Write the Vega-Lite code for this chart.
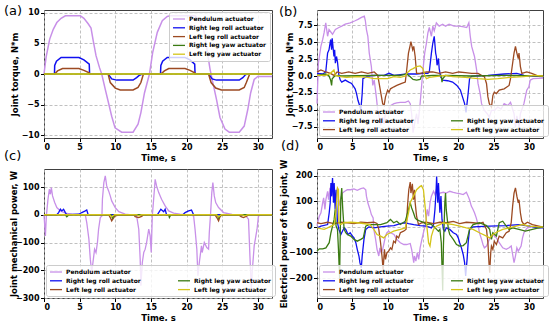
{
"$schema":"https://vega.github.io/schema/vega-lite/v6.json",
"padding":{"left":3,"top":4,"right":2,"bottom":2},
"background":"white",
"datasets":{
"a":[
{"s":"P","t":0,"v":0},{"s":"P","t":0.3,"v":2.8},{"s":"P","t":0.8,"v":5.7},{"s":"P","t":1.3,"v":7.3},{"s":"P","t":1.8,"v":8.4},{"s":"P","t":2.4,"v":9.1},{"s":"P","t":3.0,"v":9.5},{"s":"P","t":5.1,"v":9.5},{"s":"P","t":5.6,"v":9.1},{"s":"P","t":6.2,"v":8.2},{"s":"P","t":6.6,"v":7.5},{"s":"P","t":6.9,"v":5.5},{"s":"P","t":7.3,"v":3.0},{"s":"P","t":7.8,"v":1.0},{"s":"P","t":8.1,"v":0},{"s":"P","t":8.6,"v":-2.5},{"s":"P","t":9.05,"v":-4.7},{"s":"P","t":9.5,"v":-6.9},{"s":"P","t":9.97,"v":-8.8},{"s":"P","t":10.9,"v":-9.5},{"s":"P","t":12.5,"v":-9.5},{"s":"P","t":13.2,"v":-8.2},{"s":"P","t":13.6,"v":-6.3},{"s":"P","t":14.1,"v":-3.1},{"s":"P","t":14.8,"v":0},{"s":"P","t":15.25,"v":3.5},{"s":"P","t":15.9,"v":6.8},{"s":"P","t":16.6,"v":8.7},{"s":"P","t":17.3,"v":9.4},{"s":"P","t":17.7,"v":9.5},{"s":"P","t":21.2,"v":9.5},{"s":"P","t":21.9,"v":8.7},{"s":"P","t":22.4,"v":7.3},{"s":"P","t":22.8,"v":4.6},{"s":"P","t":23.3,"v":0.8},{"s":"P","t":23.7,"v":-1.4},{"s":"P","t":24.2,"v":-4.1},{"s":"P","t":24.7,"v":-7.1},{"s":"P","t":25.4,"v":-9.0},{"s":"P","t":26.0,"v":-9.5},{"s":"P","t":27.4,"v":-9.5},{"s":"P","t":28.1,"v":-8.5},{"s":"P","t":28.6,"v":-5.8},{"s":"P","t":29.0,"v":-3.1},{"s":"P","t":29.5,"v":-0.9},{"s":"P","t":30.0,"v":-0.4},{"s":"P","t":32,"v":-0.4},
{"s":"RR","t":0,"v":0},{"s":"RR","t":1.47,"v":0},{"s":"RR","t":1.5,"v":1.4},{"s":"RR","t":1.75,"v":2.1},{"s":"RR","t":2.4,"v":2.7},{"s":"RR","t":4.9,"v":2.7},{"s":"RR","t":5.6,"v":2.3},{"s":"RR","t":6.35,"v":1.6},{"s":"RR","t":6.4,"v":0},{"s":"RR","t":9.0,"v":0},{"s":"RR","t":9.5,"v":-0.8},{"s":"RR","t":10.2,"v":-1.0},{"s":"RR","t":12.5,"v":-1.0},{"s":"RR","t":13.0,"v":-0.6},{"s":"RR","t":13.4,"v":-0.2},{"s":"RR","t":13.8,"v":0},{"s":"RR","t":16.35,"v":0},{"s":"RR","t":16.4,"v":1.4},{"s":"RR","t":16.65,"v":2.1},{"s":"RR","t":17.3,"v":2.7},{"s":"RR","t":19.8,"v":2.7},{"s":"RR","t":20.5,"v":2.3},{"s":"RR","t":21.15,"v":1.6},{"s":"RR","t":21.2,"v":0},{"s":"RR","t":23.1,"v":0},{"s":"RR","t":23.6,"v":-0.8},{"s":"RR","t":24.2,"v":-1.0},{"s":"RR","t":27.4,"v":-1.0},{"s":"RR","t":27.9,"v":-0.6},{"s":"RR","t":28.3,"v":-0.1},{"s":"RR","t":28.7,"v":0},{"s":"RR","t":32,"v":0},
{"s":"LR","t":0,"v":0},{"s":"LR","t":1.5,"v":0},{"s":"LR","t":1.9,"v":0.5},{"s":"LR","t":2.6,"v":0.9},{"s":"LR","t":4.9,"v":0.9},{"s":"LR","t":5.6,"v":0.6},{"s":"LR","t":6.35,"v":0.2},{"s":"LR","t":6.4,"v":0},{"s":"LR","t":9.0,"v":0},{"s":"LR","t":9.3,"v":-1.4},{"s":"LR","t":10.0,"v":-2.3},{"s":"LR","t":10.7,"v":-2.6},{"s":"LR","t":12.5,"v":-2.6},{"s":"LR","t":13.2,"v":-2.2},{"s":"LR","t":13.6,"v":-1.4},{"s":"LR","t":13.9,"v":-0.2},{"s":"LR","t":14.0,"v":0},{"s":"LR","t":16.4,"v":0},{"s":"LR","t":16.9,"v":0.5},{"s":"LR","t":17.5,"v":0.9},{"s":"LR","t":19.8,"v":0.9},{"s":"LR","t":20.5,"v":0.6},{"s":"LR","t":21.15,"v":0.2},{"s":"LR","t":21.2,"v":0},{"s":"LR","t":23.1,"v":0},{"s":"LR","t":23.45,"v":-1.4},{"s":"LR","t":24.1,"v":-2.3},{"s":"LR","t":24.9,"v":-2.6},{"s":"LR","t":27.4,"v":-2.6},{"s":"LR","t":28.1,"v":-2.2},{"s":"LR","t":28.4,"v":-1.4},{"s":"LR","t":28.8,"v":-0.2},{"s":"LR","t":28.9,"v":0},{"s":"LR","t":32,"v":0},
{"s":"RY","t":0,"v":0},{"s":"RY","t":32,"v":0},
{"s":"LY","t":0,"v":0},{"s":"LY","t":32,"v":0}
],
"b":[
{"s":"P","t":0,"v":-4.1},{"s":"P","t":0.2,"v":1.9},{"s":"P","t":0.55,"v":4.4},{"s":"P","t":0.8,"v":5.4},{"s":"P","t":1.0,"v":6.4},{"s":"P","t":1.24,"v":7.9},{"s":"P","t":1.5,"v":5.9},{"s":"P","t":1.7,"v":6.9},{"s":"P","t":2.2,"v":6.2},{"s":"P","t":2.6,"v":6.9},{"s":"P","t":3.1,"v":7.2},{"s":"P","t":3.5,"v":7.4},{"s":"P","t":4.0,"v":7.7},{"s":"P","t":4.7,"v":7.9},{"s":"P","t":5.4,"v":8.2},{"s":"P","t":5.8,"v":8.4},{"s":"P","t":6.3,"v":8.7},{"s":"P","t":6.7,"v":8.9},{"s":"P","t":6.85,"v":8.2},{"s":"P","t":7.0,"v":6.9},{"s":"P","t":7.2,"v":5.9},{"s":"P","t":7.4,"v":3.4},{"s":"P","t":7.7,"v":1.4},{"s":"P","t":7.9,"v":-1.4},{"s":"P","t":8.1,"v":-0.6},{"s":"P","t":8.4,"v":-3.1},{"s":"P","t":8.6,"v":-5.1},{"s":"P","t":8.8,"v":-6.1},{"s":"P","t":9.05,"v":-7.1},{"s":"P","t":9.3,"v":-6.1},{"s":"P","t":9.5,"v":-7.1},{"s":"P","t":9.7,"v":-5.4},{"s":"P","t":10.2,"v":-5.1},{"s":"P","t":10.4,"v":-4.4},{"s":"P","t":10.9,"v":-4.1},{"s":"P","t":11.3,"v":-4.0},{"s":"P","t":11.8,"v":-3.9},{"s":"P","t":12.5,"v":-3.9},{"s":"P","t":12.95,"v":-3.7},{"s":"P","t":13.2,"v":-4.1},{"s":"P","t":13.4,"v":-5.6},{"s":"P","t":13.6,"v":-8.4},{"s":"P","t":13.9,"v":-6.6},{"s":"P","t":14.1,"v":-5.6},{"s":"P","t":14.3,"v":-7.1},{"s":"P","t":14.6,"v":-4.1},{"s":"P","t":14.8,"v":-1.6},{"s":"P","t":15.0,"v":0.9},{"s":"P","t":15.25,"v":3.4},{"s":"P","t":15.5,"v":4.9},{"s":"P","t":15.7,"v":6.4},{"s":"P","t":15.9,"v":7.2},{"s":"P","t":16.2,"v":5.9},{"s":"P","t":16.4,"v":7.4},{"s":"P","t":16.6,"v":6.7},{"s":"P","t":16.9,"v":7.9},{"s":"P","t":17.3,"v":7.4},{"s":"P","t":17.8,"v":7.7},{"s":"P","t":18.2,"v":7.4},{"s":"P","t":18.7,"v":7.7},{"s":"P","t":19.4,"v":7.4},{"s":"P","t":20.1,"v":7.4},{"s":"P","t":20.8,"v":7.3},{"s":"P","t":21.2,"v":7.2},{"s":"P","t":21.5,"v":7.9},{"s":"P","t":21.7,"v":5.9},{"s":"P","t":21.9,"v":4.4},{"s":"P","t":22.3,"v":2.9},{"s":"P","t":22.6,"v":0.9},{"s":"P","t":22.8,"v":-1.1},{"s":"P","t":23.1,"v":-2.6},{"s":"P","t":23.3,"v":-4.1},{"s":"P","t":23.7,"v":-5.1},{"s":"P","t":24.1,"v":-5.6},{"s":"P","t":24.4,"v":-6.1},{"s":"P","t":24.7,"v":-5.1},{"s":"P","t":25.1,"v":-5.1},{"s":"P","t":25.6,"v":-4.6},{"s":"P","t":26.05,"v":-4.9},{"s":"P","t":26.5,"v":-4.1},{"s":"P","t":27.0,"v":-4.4},{"s":"P","t":27.4,"v":-3.9},{"s":"P","t":27.9,"v":-5.6},{"s":"P","t":28.1,"v":-7.6},{"s":"P","t":28.3,"v":-5.9},{"s":"P","t":28.6,"v":-7.6},{"s":"P","t":28.8,"v":-5.6},{"s":"P","t":29.3,"v":-4.1},{"s":"P","t":29.7,"v":-2.1},{"s":"P","t":30.0,"v":-1.6},{"s":"P","t":30.2,"v":-0.6},{"s":"P","t":30.6,"v":-0.4},{"s":"P","t":32,"v":-0.3},
{"s":"RR","t":0,"v":0.4},{"s":"RR","t":0.8,"v":0.3},{"s":"RR","t":1.24,"v":0.6},{"s":"RR","t":1.5,"v":3.4},{"s":"RR","t":1.7,"v":3.9},{"s":"RR","t":1.93,"v":5.4},{"s":"RR","t":2.07,"v":3.9},{"s":"RR","t":2.15,"v":5.6},{"s":"RR","t":2.4,"v":2.9},{"s":"RR","t":2.5,"v":3.9},{"s":"RR","t":2.6,"v":1.9},{"s":"RR","t":2.76,"v":2.9},{"s":"RR","t":2.9,"v":2.1},{"s":"RR","t":3.1,"v":0.1},{"s":"RR","t":3.3,"v":-0.6},{"s":"RR","t":3.5,"v":-0.9},{"s":"RR","t":4.0,"v":-0.6},{"s":"RR","t":4.5,"v":-0.9},{"s":"RR","t":4.9,"v":-1.1},{"s":"RR","t":5.4,"v":-1.9},{"s":"RR","t":5.6,"v":-2.6},{"s":"RR","t":5.8,"v":-3.6},{"s":"RR","t":6.1,"v":-4.6},{"s":"RR","t":6.2,"v":-5.1},{"s":"RR","t":6.4,"v":-2.6},{"s":"RR","t":6.5,"v":-0.4},{"s":"RR","t":7.2,"v":0},{"s":"RR","t":8.1,"v":0.1},{"s":"RR","t":9.5,"v":0.1},{"s":"RR","t":10.2,"v":0.4},{"s":"RR","t":10.9,"v":0.1},{"s":"RR","t":12.7,"v":0.3},{"s":"RR","t":14.1,"v":0.3},{"s":"RR","t":15.0,"v":0.4},{"s":"RR","t":15.7,"v":0.4},{"s":"RR","t":15.9,"v":0.6},{"s":"RR","t":16.2,"v":3.4},{"s":"RR","t":16.4,"v":4.9},{"s":"RR","t":16.6,"v":5.9},{"s":"RR","t":16.8,"v":3.4},{"s":"RR","t":16.9,"v":2.9},{"s":"RR","t":17.0,"v":1.6},{"s":"RR","t":17.2,"v":2.6},{"s":"RR","t":17.3,"v":1.1},{"s":"RR","t":17.5,"v":-0.1},{"s":"RR","t":17.8,"v":-0.6},{"s":"RR","t":18.5,"v":-0.7},{"s":"RR","t":19.2,"v":-0.9},{"s":"RR","t":19.8,"v":-1.4},{"s":"RR","t":20.3,"v":-2.1},{"s":"RR","t":20.6,"v":-3.1},{"s":"RR","t":20.9,"v":-4.1},{"s":"RR","t":21.1,"v":-5.4},{"s":"RR","t":21.4,"v":-2.6},{"s":"RR","t":21.6,"v":-0.4},{"s":"RR","t":21.9,"v":0},{"s":"RR","t":24.2,"v":0.1},{"s":"RR","t":26.5,"v":0.3},{"s":"RR","t":28.3,"v":0.4},{"s":"RR","t":29.3,"v":0.1},{"s":"RR","t":30.6,"v":0},{"s":"RR","t":32,"v":-0.1},
{"s":"LR","t":0,"v":0.6},{"s":"LR","t":0.55,"v":0.9},{"s":"LR","t":1.24,"v":0.6},{"s":"LR","t":1.9,"v":0.4},{"s":"LR","t":2.4,"v":0.1},{"s":"LR","t":2.85,"v":0.6},{"s":"LR","t":3.5,"v":0.4},{"s":"LR","t":4.5,"v":0.6},{"s":"LR","t":5.4,"v":0.4},{"s":"LR","t":6.3,"v":0.6},{"s":"LR","t":7.2,"v":0.4},{"s":"LR","t":8.1,"v":0.6},{"s":"LR","t":8.6,"v":0.1},{"s":"LR","t":8.8,"v":-1.1},{"s":"LR","t":9.05,"v":-2.6},{"s":"LR","t":9.3,"v":-4.1},{"s":"LR","t":9.5,"v":-4.4},{"s":"LR","t":9.7,"v":-3.1},{"s":"LR","t":10.0,"v":-2.1},{"s":"LR","t":10.2,"v":-2.4},{"s":"LR","t":10.4,"v":-1.9},{"s":"LR","t":10.9,"v":-1.6},{"s":"LR","t":11.3,"v":-1.4},{"s":"LR","t":12.0,"v":-1.1},{"s":"LR","t":12.5,"v":-0.9},{"s":"LR","t":12.7,"v":0.9},{"s":"LR","t":12.95,"v":3.4},{"s":"LR","t":13.2,"v":4.6},{"s":"LR","t":13.3,"v":5.1},{"s":"LR","t":13.55,"v":3.9},{"s":"LR","t":13.7,"v":4.4},{"s":"LR","t":13.9,"v":2.9},{"s":"LR","t":14.1,"v":0.4},{"s":"LR","t":14.6,"v":0.4},{"s":"LR","t":15.5,"v":0.6},{"s":"LR","t":16.4,"v":0.6},{"s":"LR","t":17.3,"v":0.4},{"s":"LR","t":18.2,"v":0.6},{"s":"LR","t":19.2,"v":0.4},{"s":"LR","t":20.1,"v":0.6},{"s":"LR","t":21.0,"v":0.5},{"s":"LR","t":21.9,"v":0.4},{"s":"LR","t":22.8,"v":0.4},{"s":"LR","t":23.3,"v":0.1},{"s":"LR","t":23.7,"v":-0.1},{"s":"LR","t":24.0,"v":-1.1},{"s":"LR","t":24.2,"v":-3.1},{"s":"LR","t":24.4,"v":-4.1},{"s":"LR","t":24.7,"v":-4.6},{"s":"LR","t":24.9,"v":-2.9},{"s":"LR","t":25.1,"v":-2.4},{"s":"LR","t":25.4,"v":-2.6},{"s":"LR","t":25.8,"v":-2.1},{"s":"LR","t":26.5,"v":-1.9},{"s":"LR","t":27.2,"v":-1.4},{"s":"LR","t":27.4,"v":-0.4},{"s":"LR","t":27.7,"v":1.9},{"s":"LR","t":27.9,"v":3.4},{"s":"LR","t":28.1,"v":4.4},{"s":"LR","t":28.3,"v":3.4},{"s":"LR","t":28.5,"v":2.6},{"s":"LR","t":28.6,"v":3.4},{"s":"LR","t":28.8,"v":1.4},{"s":"LR","t":29.0,"v":0.4},{"s":"LR","t":29.7,"v":0.6},{"s":"LR","t":30.4,"v":0.4},{"s":"LR","t":31.1,"v":0.1},{"s":"LR","t":32,"v":0},
{"s":"RY","t":0,"v":0.1},{"s":"RY","t":1.24,"v":0.3},{"s":"RY","t":1.7,"v":0},{"s":"RY","t":1.93,"v":-0.6},{"s":"RY","t":2.07,"v":-1.4},{"s":"RY","t":2.15,"v":-0.4},{"s":"RY","t":2.6,"v":0.1},{"s":"RY","t":3.5,"v":0},{"s":"RY","t":8.1,"v":0.1},{"s":"RY","t":11.8,"v":0.1},{"s":"RY","t":12.7,"v":0.3},{"s":"RY","t":13.2,"v":-0.1},{"s":"RY","t":13.6,"v":-0.5},{"s":"RY","t":14.1,"v":-0.6},{"s":"RY","t":14.6,"v":-0.5},{"s":"RY","t":14.8,"v":0},{"s":"RY","t":16.4,"v":0.1},{"s":"RY","t":17.6,"v":0.1},{"s":"RY","t":17.7,"v":-0.9},{"s":"RY","t":17.8,"v":-0.4},{"s":"RY","t":18.2,"v":0.1},{"s":"RY","t":21.9,"v":0},{"s":"RY","t":26.5,"v":0.1},{"s":"RY","t":32,"v":0},
{"s":"LY","t":0,"v":0.1},{"s":"LY","t":1.24,"v":0.1},{"s":"LY","t":1.9,"v":0.4},{"s":"LY","t":2.4,"v":0.9},{"s":"LY","t":2.6,"v":0.1},{"s":"LY","t":3.3,"v":-0.1},{"s":"LY","t":4.2,"v":-0.2},{"s":"LY","t":5.8,"v":-0.1},{"s":"LY","t":7.2,"v":-0.2},{"s":"LY","t":8.1,"v":-0.4},{"s":"LY","t":9.05,"v":-0.4},{"s":"LY","t":10.0,"v":-0.4},{"s":"LY","t":10.9,"v":-0.1},{"s":"LY","t":11.8,"v":-0.2},{"s":"LY","t":12.5,"v":0},{"s":"LY","t":12.7,"v":0.4},{"s":"LY","t":13.2,"v":0.9},{"s":"LY","t":13.6,"v":1.1},{"s":"LY","t":14.1,"v":1.4},{"s":"LY","t":14.6,"v":1.5},{"s":"LY","t":15.0,"v":1.1},{"s":"LY","t":15.25,"v":0.1},{"s":"LY","t":15.5,"v":-0.4},{"s":"LY","t":15.9,"v":-0.2},{"s":"LY","t":17.3,"v":0},{"s":"LY","t":18.2,"v":0.1},{"s":"LY","t":19.2,"v":-0.1},{"s":"LY","t":21.0,"v":-0.2},{"s":"LY","t":22.8,"v":-0.4},{"s":"LY","t":24.2,"v":-0.5},{"s":"LY","t":25.6,"v":-0.4},{"s":"LY","t":27.4,"v":-0.2},{"s":"LY","t":29.3,"v":-0.1},{"s":"LY","t":30.6,"v":0.1},{"s":"LY","t":32,"v":0}
],
"c":[
{"s":"P","t":0,"v":0},{"s":"P","t":0.2,"v":-76},{"s":"P","t":0.33,"v":-4},{"s":"P","t":0.56,"v":56},{"s":"P","t":0.75,"v":92},{"s":"P","t":0.9,"v":74},{"s":"P","t":1.03,"v":98},{"s":"P","t":1.2,"v":68},{"s":"P","t":1.5,"v":44},{"s":"P","t":1.8,"v":26},{"s":"P","t":2.3,"v":14},{"s":"P","t":3.0,"v":6},{"s":"P","t":3.9,"v":2},{"s":"P","t":5.1,"v":1},{"s":"P","t":5.8,"v":0},{"s":"P","t":6.0,"v":-28},{"s":"P","t":6.3,"v":-88},{"s":"P","t":6.5,"v":-160},{"s":"P","t":6.7,"v":-208},{"s":"P","t":6.87,"v":-172},{"s":"P","t":7.1,"v":-124},{"s":"P","t":7.3,"v":-136},{"s":"P","t":7.5,"v":-100},{"s":"P","t":7.66,"v":-52},{"s":"P","t":7.9,"v":-10},{"s":"P","t":8.13,"v":-4},{"s":"P","t":8.2,"v":56},{"s":"P","t":8.4,"v":116},{"s":"P","t":8.6,"v":140},{"s":"P","t":8.8,"v":104},{"s":"P","t":9.07,"v":86},{"s":"P","t":9.3,"v":68},{"s":"P","t":9.5,"v":50},{"s":"P","t":10.0,"v":26},{"s":"P","t":10.5,"v":11},{"s":"P","t":11.4,"v":2},{"s":"P","t":12.3,"v":0},{"s":"P","t":13.0,"v":-4},{"s":"P","t":13.3,"v":-52},{"s":"P","t":13.5,"v":-160},{"s":"P","t":13.6,"v":-256},{"s":"P","t":13.8,"v":-172},{"s":"P","t":14.0,"v":-136},{"s":"P","t":14.2,"v":-124},{"s":"P","t":14.4,"v":-100},{"s":"P","t":14.7,"v":-52},{"s":"P","t":14.9,"v":-76},{"s":"P","t":15.05,"v":-136},{"s":"P","t":15.2,"v":-4},{"s":"P","t":15.5,"v":92},{"s":"P","t":15.6,"v":128},{"s":"P","t":15.8,"v":104},{"s":"P","t":16.1,"v":80},{"s":"P","t":16.5,"v":56},{"s":"P","t":17.0,"v":32},{"s":"P","t":17.5,"v":14},{"s":"P","t":18.2,"v":6},{"s":"P","t":19.1,"v":2},{"s":"P","t":20.5,"v":0},{"s":"P","t":21.0,"v":-4},{"s":"P","t":21.2,"v":-52},{"s":"P","t":21.45,"v":-124},{"s":"P","t":21.6,"v":-220},{"s":"P","t":21.8,"v":-172},{"s":"P","t":22.1,"v":-112},{"s":"P","t":22.2,"v":-136},{"s":"P","t":22.5,"v":-100},{"s":"P","t":22.85,"v":-118},{"s":"P","t":23.1,"v":-124},{"s":"P","t":23.2,"v":-64},{"s":"P","t":23.36,"v":-4},{"s":"P","t":23.55,"v":80},{"s":"P","t":23.7,"v":116},{"s":"P","t":23.9,"v":68},{"s":"P","t":24.1,"v":44},{"s":"P","t":24.5,"v":26},{"s":"P","t":25.2,"v":8},{"s":"P","t":26.4,"v":1},{"s":"P","t":28.2,"v":0},{"s":"P","t":28.7,"v":-16},{"s":"P","t":28.9,"v":-148},{"s":"P","t":29.1,"v":-268},{"s":"P","t":29.25,"v":-196},{"s":"P","t":29.5,"v":-112},{"s":"P","t":29.9,"v":-52},{"s":"P","t":30.1,"v":-4},{"s":"P","t":30.6,"v":0},{"s":"P","t":32,"v":0},
{"s":"RR","t":0,"v":0},{"s":"RR","t":1.8,"v":0},{"s":"RR","t":2.05,"v":8},{"s":"RR","t":2.3,"v":20},{"s":"RR","t":2.5,"v":14},{"s":"RR","t":2.75,"v":20},{"s":"RR","t":3.0,"v":8},{"s":"RR","t":3.2,"v":0},{"s":"RR","t":4.9,"v":2},{"s":"RR","t":5.3,"v":8},{"s":"RR","t":5.8,"v":14},{"s":"RR","t":6.0,"v":17},{"s":"RR","t":6.2,"v":0},{"s":"RR","t":15.9,"v":0},{"s":"RR","t":16.1,"v":8},{"s":"RR","t":16.4,"v":20},{"s":"RR","t":16.8,"v":11},{"s":"RR","t":17.0,"v":20},{"s":"RR","t":17.2,"v":0},{"s":"RR","t":19.5,"v":0},{"s":"RR","t":19.8,"v":8},{"s":"RR","t":20.3,"v":14},{"s":"RR","t":20.7,"v":17},{"s":"RR","t":21.0,"v":0},{"s":"RR","t":32,"v":0},
{"s":"LR","t":0,"v":0},{"s":"LR","t":9.07,"v":0},{"s":"LR","t":9.3,"v":-10},{"s":"LR","t":9.5,"v":-22},{"s":"LR","t":9.8,"v":-10},{"s":"LR","t":10.0,"v":-4},{"s":"LR","t":10.5,"v":-1},{"s":"LR","t":12.6,"v":0},{"s":"LR","t":12.8,"v":-7},{"s":"LR","t":13.3,"v":-10},{"s":"LR","t":13.7,"v":-6},{"s":"LR","t":14.0,"v":0},{"s":"LR","t":24.0,"v":0},{"s":"LR","t":24.25,"v":-10},{"s":"LR","t":24.5,"v":-22},{"s":"LR","t":24.7,"v":-7},{"s":"LR","t":24.95,"v":-1},{"s":"LR","t":27.3,"v":0},{"s":"LR","t":27.66,"v":-7},{"s":"LR","t":28.0,"v":-10},{"s":"LR","t":28.5,"v":-4},{"s":"LR","t":28.7,"v":0},{"s":"LR","t":32,"v":0},
{"s":"RY","t":0,"v":0},{"s":"RY","t":3.0,"v":0},{"s":"RY","t":3.2,"v":-7},{"s":"RY","t":3.5,"v":0},{"s":"RY","t":9.4,"v":0},{"s":"RY","t":9.6,"v":-12},{"s":"RY","t":9.9,"v":0},{"s":"RY","t":17.5,"v":0},{"s":"RY","t":17.6,"v":-10},{"s":"RY","t":17.8,"v":0},{"s":"RY","t":24.3,"v":0},{"s":"RY","t":24.5,"v":-12},{"s":"RY","t":24.8,"v":0},{"s":"RY","t":32,"v":0},
{"s":"LY","t":0,"v":0},{"s":"LY","t":9.2,"v":0},{"s":"LY","t":9.5,"v":-8},{"s":"LY","t":9.9,"v":0},{"s":"LY","t":13.0,"v":0},{"s":"LY","t":13.3,"v":-4},{"s":"LY","t":13.7,"v":0},{"s":"LY","t":24.2,"v":0},{"s":"LY","t":24.5,"v":-8},{"s":"LY","t":24.9,"v":0},{"s":"LY","t":27.8,"v":0},{"s":"LY","t":28.2,"v":-4},{"s":"LY","t":28.6,"v":0},{"s":"LY","t":32,"v":0}
],
"d":[
{"s":"P","t":0,"v":5},{"s":"P","t":0.33,"v":42},{"s":"P","t":0.56,"v":55},{"s":"P","t":0.8,"v":94},{"s":"P","t":0.94,"v":113},{"s":"P","t":1.12,"v":68},{"s":"P","t":1.26,"v":106},{"s":"P","t":1.5,"v":139},{"s":"P","t":1.64,"v":106},{"s":"P","t":1.83,"v":152},{"s":"P","t":1.97,"v":120},{"s":"P","t":2.2,"v":132},{"s":"P","t":2.43,"v":106},{"s":"P","t":2.67,"v":126},{"s":"P","t":2.9,"v":152},{"s":"P","t":3.1,"v":81},{"s":"P","t":3.37,"v":113},{"s":"P","t":3.6,"v":132},{"s":"P","t":3.93,"v":139},{"s":"P","t":4.3,"v":145},{"s":"P","t":4.77,"v":145},{"s":"P","t":5.24,"v":148},{"s":"P","t":5.7,"v":143},{"s":"P","t":6.2,"v":149},{"s":"P","t":6.6,"v":152},{"s":"P","t":6.9,"v":145},{"s":"P","t":7.0,"v":120},{"s":"P","t":7.2,"v":94},{"s":"P","t":7.5,"v":68},{"s":"P","t":7.7,"v":48},{"s":"P","t":7.95,"v":35},{"s":"P","t":8.05,"v":-10},{"s":"P","t":8.3,"v":-49},{"s":"P","t":8.5,"v":-88},{"s":"P","t":8.75,"v":-114},{"s":"P","t":8.9,"v":-82},{"s":"P","t":9.1,"v":-101},{"s":"P","t":9.3,"v":-88},{"s":"P","t":9.45,"v":-69},{"s":"P","t":9.7,"v":-36},{"s":"P","t":9.9,"v":-23},{"s":"P","t":10.15,"v":-17},{"s":"P","t":10.4,"v":-23},{"s":"P","t":10.9,"v":-30},{"s":"P","t":11.3,"v":-49},{"s":"P","t":11.8,"v":-62},{"s":"P","t":12.3,"v":-69},{"s":"P","t":12.7,"v":-69},{"s":"P","t":13.2,"v":-65},{"s":"P","t":13.4,"v":-88},{"s":"P","t":13.7,"v":-140},{"s":"P","t":13.8,"v":-114},{"s":"P","t":14.0,"v":-134},{"s":"P","t":14.2,"v":-101},{"s":"P","t":14.4,"v":-127},{"s":"P","t":14.6,"v":-82},{"s":"P","t":14.8,"v":-56},{"s":"P","t":15.07,"v":-23},{"s":"P","t":15.3,"v":3},{"s":"P","t":15.45,"v":29},{"s":"P","t":15.6,"v":68},{"s":"P","t":15.8,"v":42},{"s":"P","t":16.0,"v":94},{"s":"P","t":16.2,"v":120},{"s":"P","t":16.5,"v":139},{"s":"P","t":16.7,"v":126},{"s":"P","t":16.9,"v":145},{"s":"P","t":17.2,"v":120},{"s":"P","t":17.4,"v":132},{"s":"P","t":17.9,"v":135},{"s":"P","t":18.3,"v":132},{"s":"P","t":18.8,"v":139},{"s":"P","t":19.3,"v":135},{"s":"P","t":19.75,"v":132},{"s":"P","t":20.2,"v":130},{"s":"P","t":20.7,"v":126},{"s":"P","t":21.15,"v":135},{"s":"P","t":21.4,"v":120},{"s":"P","t":21.6,"v":106},{"s":"P","t":21.85,"v":81},{"s":"P","t":22.1,"v":68},{"s":"P","t":22.3,"v":55},{"s":"P","t":22.55,"v":35},{"s":"P","t":22.8,"v":9},{"s":"P","t":23.0,"v":-23},{"s":"P","t":23.3,"v":-49},{"s":"P","t":23.5,"v":-69},{"s":"P","t":23.7,"v":-82},{"s":"P","t":24.0,"v":-75},{"s":"P","t":24.2,"v":-62},{"s":"P","t":24.4,"v":-49},{"s":"P","t":24.9,"v":-30},{"s":"P","t":25.4,"v":-43},{"s":"P","t":25.8,"v":-62},{"s":"P","t":26.3,"v":-82},{"s":"P","t":26.8,"v":-88},{"s":"P","t":27.2,"v":-82},{"s":"P","t":27.5,"v":-75},{"s":"P","t":27.7,"v":-108},{"s":"P","t":27.9,"v":-140},{"s":"P","t":28.1,"v":-114},{"s":"P","t":28.3,"v":-82},{"s":"P","t":28.5,"v":-95},{"s":"P","t":28.9,"v":-75},{"s":"P","t":29.1,"v":-43},{"s":"P","t":29.3,"v":-23},{"s":"P","t":29.6,"v":-10},{"s":"P","t":29.8,"v":-4},{"s":"P","t":30.3,"v":0},
{"s":"RR","t":0,"v":-4},{"s":"RR","t":0.56,"v":3},{"s":"RR","t":1.5,"v":9},{"s":"RR","t":1.73,"v":55},{"s":"RR","t":1.87,"v":94},{"s":"RR","t":1.97,"v":171},{"s":"RR","t":2.06,"v":120},{"s":"RR","t":2.2,"v":191},{"s":"RR","t":2.34,"v":94},{"s":"RR","t":2.43,"v":171},{"s":"RR","t":2.57,"v":68},{"s":"RR","t":2.7,"v":145},{"s":"RR","t":2.9,"v":16},{"s":"RR","t":3.1,"v":-10},{"s":"RR","t":3.37,"v":-30},{"s":"RR","t":3.6,"v":-17},{"s":"RR","t":3.84,"v":-4},{"s":"RR","t":4.07,"v":-10},{"s":"RR","t":4.4,"v":-30},{"s":"RR","t":4.7,"v":-23},{"s":"RR","t":5.0,"v":-36},{"s":"RR","t":5.24,"v":-43},{"s":"RR","t":5.5,"v":-62},{"s":"RR","t":5.7,"v":-88},{"s":"RR","t":5.94,"v":-114},{"s":"RR","t":6.08,"v":-140},{"s":"RR","t":6.27,"v":-160},{"s":"RR","t":6.4,"v":-114},{"s":"RR","t":6.65,"v":-49},{"s":"RR","t":6.9,"v":-10},{"s":"RR","t":7.35,"v":0},{"s":"RR","t":8.05,"v":-4},{"s":"RR","t":9.0,"v":0},{"s":"RR","t":9.9,"v":3},{"s":"RR","t":10.9,"v":5},{"s":"RR","t":11.8,"v":13},{"s":"RR","t":12.5,"v":16},{"s":"RR","t":12.96,"v":13},{"s":"RR","t":13.7,"v":9},{"s":"RR","t":14.6,"v":5},{"s":"RR","t":15.5,"v":3},{"s":"RR","t":16.2,"v":-4},{"s":"RR","t":16.5,"v":9},{"s":"RR","t":16.7,"v":68},{"s":"RR","t":16.85,"v":132},{"s":"RR","t":16.94,"v":197},{"s":"RR","t":17.1,"v":94},{"s":"RR","t":17.2,"v":171},{"s":"RR","t":17.4,"v":55},{"s":"RR","t":17.55,"v":120},{"s":"RR","t":17.7,"v":29},{"s":"RR","t":17.9,"v":-10},{"s":"RR","t":18.1,"v":-17},{"s":"RR","t":18.3,"v":-4},{"s":"RR","t":18.8,"v":-10},{"s":"RR","t":19.3,"v":-23},{"s":"RR","t":19.75,"v":-30},{"s":"RR","t":20.0,"v":-43},{"s":"RR","t":20.2,"v":-62},{"s":"RR","t":20.45,"v":-82},{"s":"RR","t":20.7,"v":-108},{"s":"RR","t":20.9,"v":-140},{"s":"RR","t":21.05,"v":-192},{"s":"RR","t":21.25,"v":-127},{"s":"RR","t":21.4,"v":-62},{"s":"RR","t":21.6,"v":-10},{"s":"RR","t":22.1,"v":0},{"s":"RR","t":24.4,"v":3},{"s":"RR","t":26.8,"v":5},{"s":"RR","t":28.6,"v":9},{"s":"RR","t":30.0,"v":3},{"s":"RR","t":31.4,"v":-4},{"s":"RR","t":32,"v":-4},
{"s":"LR","t":0,"v":16},{"s":"LR","t":0.56,"v":13},{"s":"LR","t":1.5,"v":18},{"s":"LR","t":2.43,"v":13},{"s":"LR","t":3.37,"v":18},{"s":"LR","t":4.3,"v":16},{"s":"LR","t":5.24,"v":13},{"s":"LR","t":6.2,"v":18},{"s":"LR","t":7.1,"v":16},{"s":"LR","t":8.05,"v":18},{"s":"LR","t":8.5,"v":13},{"s":"LR","t":8.75,"v":-10},{"s":"LR","t":9.0,"v":-62},{"s":"LR","t":9.2,"v":-114},{"s":"LR","t":9.36,"v":-166},{"s":"LR","t":9.55,"v":-88},{"s":"LR","t":9.7,"v":-127},{"s":"LR","t":9.9,"v":-101},{"s":"LR","t":10.15,"v":-95},{"s":"LR","t":10.4,"v":-82},{"s":"LR","t":10.6,"v":-88},{"s":"LR","t":10.85,"v":-56},{"s":"LR","t":11.1,"v":-62},{"s":"LR","t":11.3,"v":-36},{"s":"LR","t":11.55,"v":-43},{"s":"LR","t":11.8,"v":-23},{"s":"LR","t":12.26,"v":-17},{"s":"LR","t":12.6,"v":-10},{"s":"LR","t":12.7,"v":29},{"s":"LR","t":12.85,"v":94},{"s":"LR","t":13.0,"v":145},{"s":"LR","t":13.2,"v":175},{"s":"LR","t":13.3,"v":132},{"s":"LR","t":13.5,"v":168},{"s":"LR","t":13.66,"v":106},{"s":"LR","t":13.8,"v":145},{"s":"LR","t":13.9,"v":94},{"s":"LR","t":14.1,"v":42},{"s":"LR","t":14.37,"v":9},{"s":"LR","t":14.84,"v":16},{"s":"LR","t":15.5,"v":18},{"s":"LR","t":16.5,"v":13},{"s":"LR","t":17.4,"v":18},{"s":"LR","t":18.3,"v":16},{"s":"LR","t":19.3,"v":21},{"s":"LR","t":20.2,"v":13},{"s":"LR","t":21.15,"v":18},{"s":"LR","t":22.1,"v":16},{"s":"LR","t":23.0,"v":13},{"s":"LR","t":23.5,"v":18},{"s":"LR","t":24.0,"v":-10},{"s":"LR","t":24.2,"v":-62},{"s":"LR","t":24.35,"v":-140},{"s":"LR","t":24.45,"v":-179},{"s":"LR","t":24.6,"v":-101},{"s":"LR","t":24.7,"v":-75},{"s":"LR","t":24.9,"v":-88},{"s":"LR","t":25.1,"v":-56},{"s":"LR","t":25.4,"v":-69},{"s":"LR","t":25.8,"v":-36},{"s":"LR","t":26.3,"v":-43},{"s":"LR","t":26.8,"v":-23},{"s":"LR","t":27.2,"v":-17},{"s":"LR","t":27.5,"v":16},{"s":"LR","t":27.7,"v":81},{"s":"LR","t":27.9,"v":132},{"s":"LR","t":28.1,"v":152},{"s":"LR","t":28.3,"v":120},{"s":"LR","t":28.5,"v":94},{"s":"LR","t":28.6,"v":106},{"s":"LR","t":28.8,"v":55},{"s":"LR","t":29.0,"v":22},{"s":"LR","t":29.3,"v":9},{"s":"LR","t":29.8,"v":18},{"s":"LR","t":30.5,"v":9},{"s":"LR","t":31.4,"v":3},{"s":"LR","t":32,"v":-1},
{"s":"RY","t":0,"v":-95},{"s":"RY","t":0.33,"v":-86},{"s":"RY","t":0.8,"v":-86},{"s":"RY","t":1.26,"v":-82},{"s":"RY","t":1.73,"v":-62},{"s":"RY","t":1.97,"v":-23},{"s":"RY","t":2.2,"v":3},{"s":"RY","t":2.43,"v":29},{"s":"RY","t":2.57,"v":68},{"s":"RY","t":2.7,"v":3},{"s":"RY","t":2.9,"v":-10},{"s":"RY","t":3.04,"v":-88},{"s":"RY","t":3.2,"v":-200},{"s":"RY","t":3.28,"v":-49},{"s":"RY","t":3.37,"v":106},{"s":"RY","t":3.5,"v":152},{"s":"RY","t":3.65,"v":68},{"s":"RY","t":3.84,"v":-10},{"s":"RY","t":4.07,"v":-23},{"s":"RY","t":4.3,"v":-30},{"s":"RY","t":4.77,"v":-36},{"s":"RY","t":5.24,"v":-49},{"s":"RY","t":5.7,"v":-56},{"s":"RY","t":6.2,"v":-49},{"s":"RY","t":6.55,"v":-43},{"s":"RY","t":6.9,"v":3},{"s":"RY","t":7.35,"v":9},{"s":"RY","t":8.05,"v":9},{"s":"RY","t":9.0,"v":9},{"s":"RY","t":9.9,"v":16},{"s":"RY","t":10.4,"v":29},{"s":"RY","t":10.85,"v":16},{"s":"RY","t":11.3,"v":22},{"s":"RY","t":11.8,"v":9},{"s":"RY","t":12.5,"v":22},{"s":"RY","t":12.7,"v":42},{"s":"RY","t":12.96,"v":68},{"s":"RY","t":13.2,"v":94},{"s":"RY","t":13.4,"v":74},{"s":"RY","t":13.66,"v":55},{"s":"RY","t":13.9,"v":35},{"s":"RY","t":14.1,"v":29},{"s":"RY","t":14.6,"v":22},{"s":"RY","t":15.07,"v":18},{"s":"RY","t":15.5,"v":9},{"s":"RY","t":16.0,"v":12},{"s":"RY","t":16.5,"v":3},{"s":"RY","t":16.94,"v":-10},{"s":"RY","t":17.2,"v":-17},{"s":"RY","t":17.4,"v":-10},{"s":"RY","t":17.6,"v":-62},{"s":"RY","t":17.8,"v":-250},{"s":"RY","t":17.9,"v":-75},{"s":"RY","t":18.1,"v":94},{"s":"RY","t":18.2,"v":132},{"s":"RY","t":18.3,"v":68},{"s":"RY","t":18.6,"v":-10},{"s":"RY","t":18.8,"v":-30},{"s":"RY","t":19.3,"v":-49},{"s":"RY","t":19.75,"v":-69},{"s":"RY","t":20.2,"v":-75},{"s":"RY","t":20.7,"v":-73},{"s":"RY","t":21.15,"v":-62},{"s":"RY","t":21.6,"v":-10},{"s":"RY","t":22.1,"v":9},{"s":"RY","t":23.0,"v":16},{"s":"RY","t":24.0,"v":5},{"s":"RY","t":24.45,"v":-10},{"s":"RY","t":24.7,"v":-49},{"s":"RY","t":24.9,"v":-23},{"s":"RY","t":25.4,"v":-36},{"s":"RY","t":25.8,"v":16},{"s":"RY","t":26.3,"v":22},{"s":"RY","t":26.8,"v":3},{"s":"RY","t":27.2,"v":-10},{"s":"RY","t":27.7,"v":-4},{"s":"RY","t":28.6,"v":-10},{"s":"RY","t":29.5,"v":-17},{"s":"RY","t":30.5,"v":-10},{"s":"RY","t":31.4,"v":-4},{"s":"RY","t":32,"v":0},
{"s":"LY","t":0,"v":-4},{"s":"LY","t":1.0,"v":-10},{"s":"LY","t":1.5,"v":-4},{"s":"LY","t":2.0,"v":3},{"s":"LY","t":2.43,"v":9},{"s":"LY","t":2.67,"v":55},{"s":"LY","t":2.9,"v":152},{"s":"LY","t":3.04,"v":145},{"s":"LY","t":3.1,"v":16},{"s":"LY","t":3.37,"v":9},{"s":"LY","t":3.84,"v":16},{"s":"LY","t":4.77,"v":18},{"s":"LY","t":5.7,"v":16},{"s":"LY","t":6.6,"v":13},{"s":"LY","t":7.5,"v":9},{"s":"LY","t":8.05,"v":-10},{"s":"LY","t":8.5,"v":-30},{"s":"LY","t":9.0,"v":-36},{"s":"LY","t":9.45,"v":-43},{"s":"LY","t":9.9,"v":-30},{"s":"LY","t":10.4,"v":-23},{"s":"LY","t":10.85,"v":-17},{"s":"LY","t":11.8,"v":-10},{"s":"LY","t":12.5,"v":-4},{"s":"LY","t":12.7,"v":22},{"s":"LY","t":12.96,"v":55},{"s":"LY","t":13.2,"v":94},{"s":"LY","t":13.66,"v":120},{"s":"LY","t":14.1,"v":145},{"s":"LY","t":14.6,"v":158},{"s":"LY","t":14.8,"v":161},{"s":"LY","t":15.07,"v":145},{"s":"LY","t":15.3,"v":81},{"s":"LY","t":15.5,"v":16},{"s":"LY","t":15.8,"v":-62},{"s":"LY","t":16.0,"v":-75},{"s":"LY","t":16.2,"v":-36},{"s":"LY","t":16.5,"v":-10},{"s":"LY","t":16.94,"v":3},{"s":"LY","t":17.4,"v":9},{"s":"LY","t":17.9,"v":16},{"s":"LY","t":18.3,"v":13},{"s":"LY","t":19.3,"v":9},{"s":"LY","t":20.2,"v":3},{"s":"LY","t":21.15,"v":-4},{"s":"LY","t":22.1,"v":-10},{"s":"LY","t":23.0,"v":-23},{"s":"LY","t":24.0,"v":-36},{"s":"LY","t":24.45,"v":-43},{"s":"LY","t":24.9,"v":-30},{"s":"LY","t":25.4,"v":-21},{"s":"LY","t":26.3,"v":-10},{"s":"LY","t":27.2,"v":-4},{"s":"LY","t":28.2,"v":3},{"s":"LY","t":29.1,"v":9},{"s":"LY","t":30.0,"v":3},{"s":"LY","t":31.4,"v":0},{"s":"LY","t":32,"v":0}
]
},
"config":{
"font":"DejaVu Sans",
"view":{"stroke":"#404040","strokeWidth":1},
"axis":{"labelFont":"DejaVu Sans","labelFontWeight":"bold","labelFontSize":8,"labelColor":"black","titleFont":"DejaVu Sans","titleFontWeight":"bold","titleFontSize":8.5,"titleColor":"black","domain":false,"tickColor":"black","tickSize":3.5,"labelPadding":1.5,"gridColor":"#b0b0b0","gridDash":[3,2],"gridWidth":0.8},
"legend":{"labelFont":"DejaVu Sans","labelFontWeight":"bold","labelFontSize":6,"labelColor":"black","symbolType":"M-1,0L3,0","symbolStrokeWidth":2,"symbolSize":36,"rowPadding":1.8,"padding":3,"fillColor":"rgba(255,255,255,0.8)","strokeColor":"#cccccc","cornerRadius":2,"labelOffset":9,"offset":2},
"title":{"font":"DejaVu Sans","fontSize":13,"fontWeight":"normal","anchor":"start","frame":"group","offset":0,"color":"black"},
"line":{"strokeWidth":1.3,"clip":true}
},
"resolve":{"scale":{"color":"independent"},"legend":{"color":"independent"}},
"bounds":"flush",
"columns":2,
"spacing":{"row":31,"column":45},
"concat":[
{"data":{"name":"a"},"title":{"text":"(a)","dx":-40,"dy":13},"width":228,"height":128,
"mark":{"type":"line","strokeWidth":1.5},
"encoding":{
"x":{"field":"t","type":"quantitative","scale":{"domain":[0,32],"nice":false},"axis":{"values":[0,5,10,15,20,25,30],"title":"Time, s","titlePadding":2}},
"y":{"field":"v","type":"quantitative","scale":{"domain":[-10.45,10.45],"nice":false,"zero":false},"axis":{"values":[-10,-5,0,5,10],"title":"Joint torque, N*m","titleX":-25}},
"color":{"field":"s","type":"nominal","scale":{"domain":["P","RR","LR","RY","LY"],"range":["#c890e8","#1010f0","#9c4a22","#3a7a12","#d4c41a"]},"legend":{"title":null,"orient":"top-right","labelExpr":"datum.label == 'P' ? 'Pendulum actuator' : datum.label == 'RR' ? 'Right leg roll actuator' : datum.label == 'LR' ? 'Left leg roll actuator' : datum.label == 'RY' ? 'Right leg yaw actuator' : datum.label == 'LY' ? 'Left leg yaw actuator' : ''"}}}},
{"data":{"name":"b"},"title":{"text":"(b)","dx":-38,"dy":13},"width":226,"height":128,
"mark":{"type":"line"},
"encoding":{
"x":{"field":"t","type":"quantitative","scale":{"domain":[0,32],"nice":false},"axis":{"values":[0,5,10,15,20,25,30],"title":"Time, s","titlePadding":2}},
"y":{"field":"v","type":"quantitative","scale":{"domain":[-9.2,9.8],"nice":false,"zero":false},"axis":{"values":[-7.5,-5,-2.5,0,2.5,5,7.5],"format":".1f","title":"Joint torque, N*m","titleX":-23}},
"color":{"field":"s","type":"nominal","scale":{"domain":["P","RR","LR","_","RY","LY"],"range":["#c890e8","#1010f0","#9c4a22","rgba(0,0,0,0)","#3a7a12","#d4c41a"]},"legend":{"title":null,"orient":"bottom-left","columns":2,"columnPadding":34,"labelExpr":"datum.label == 'P' ? 'Pendulum actuator' : datum.label == 'RR' ? 'Right leg roll actuator' : datum.label == 'LR' ? 'Left leg roll actuator' : datum.label == 'RY' ? 'Right leg yaw actuator' : datum.label == 'LY' ? 'Left leg yaw actuator' : ''"}}}},
{"data":{"name":"c"},"title":{"text":"(c)","dx":-40,"dy":-2},"width":228,"height":129,
"mark":{"type":"line"},
"encoding":{
"x":{"field":"t","type":"quantitative","scale":{"domain":[0,32],"nice":false},"axis":{"values":[0,5,10,15,20,25,30],"title":"Time, s","titlePadding":2}},
"y":{"field":"v","type":"quantitative","scale":{"domain":[-300,165],"nice":false,"zero":false},"axis":{"values":[-300,-200,-100,0,100],"title":"Joint mechanical power, W","titleX":-26}},
"color":{"field":"s","type":"nominal","scale":{"domain":["P","RR","LR","_","RY","LY"],"range":["#c890e8","#1010f0","#9c4a22","rgba(0,0,0,0)","#3a7a12","#d4c41a"]},"legend":{"title":null,"orient":"bottom-left","columns":2,"columnPadding":34,"labelExpr":"datum.label == 'P' ? 'Pendulum actuator' : datum.label == 'RR' ? 'Right leg roll actuator' : datum.label == 'LR' ? 'Left leg roll actuator' : datum.label == 'RY' ? 'Right leg yaw actuator' : datum.label == 'LY' ? 'Left leg yaw actuator' : ''"}}}},
{"data":{"name":"d"},"title":{"text":"(d)","dx":-36,"dy":-2},"width":226,"height":129,
"mark":{"type":"line"},
"encoding":{
"x":{"field":"t","type":"quantitative","scale":{"domain":[0,32],"nice":false},"axis":{"values":[0,5,10,15,20,25,30],"title":"Time, s","titlePadding":2}},
"y":{"field":"v","type":"quantitative","scale":{"domain":[-278,226],"nice":false,"zero":false},"axis":{"values":[-200,-100,0,100,200],"title":"Electrical power of the joint, W","titleX":-29}},
"color":{"field":"s","type":"nominal","scale":{"domain":["P","RR","LR","_","RY","LY"],"range":["#c890e8","#1010f0","#9c4a22","rgba(0,0,0,0)","#3a7a12","#d4c41a"]},"legend":{"title":null,"orient":"bottom-left","columns":2,"columnPadding":34,"labelExpr":"datum.label == 'P' ? 'Pendulum actuator' : datum.label == 'RR' ? 'Right leg roll actuator' : datum.label == 'LR' ? 'Left leg roll actuator' : datum.label == 'RY' ? 'Right leg yaw actuator' : datum.label == 'LY' ? 'Left leg yaw actuator' : ''"}}}}
]
}
